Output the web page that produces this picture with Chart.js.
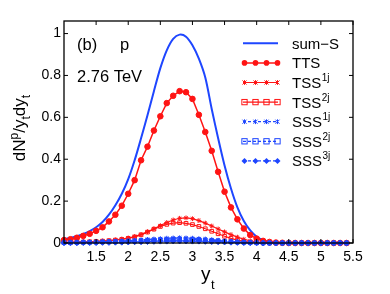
<!DOCTYPE html>
<html><head><meta charset="utf-8">
<script src="https://cdn.jsdelivr.net/npm/chart.js@4"></script>
<style>html,body{margin:0;padding:0;background:#fff}#wrap{width:390px;height:294px}</style>
</head><body><div id="wrap"><canvas id="c" width="390" height="294"></canvas></div>
<script>
const yt = [1.0,1.1,1.2,1.3,1.4,1.5,1.6,1.7,1.8,1.9,2.0,2.1,2.2,2.3,2.4,2.5,2.6,2.7,2.8,2.9,3.0,3.1,3.2,3.3,3.4,3.5,3.6,3.7,3.8,3.9,4.0,4.1,4.2,4.3,4.4,4.5,4.6,4.7,4.8,4.9,5.0,5.1,5.2,5.3,5.4];
const sumS = [.018,.024,.032,.043,.057,.075,.100,.135,.180,.235,.305,.395,.500,.610,.725,.835,.920,.975,.995,.985,.944,.880,.790,.640,.500,.370,.260,.170,.105,.060,.030,.013,.005,.002,.001,0,0,0,0,0,0,0,0,0,0];
const TTS = [.014,.018,.025,.034,.044,.058,.075,.103,.135,.178,.235,.300,.395,.460,.537,.605,.668,.703,.725,.720,.688,.612,.530,.440,.340,.245,.170,.113,.069,.038,.021,.010,.005,.002,.001,0,0,0,0,0,0,0,0,0,0];
const TSS1j = [.003,.004,.005,.006,.007,.008,.010,.012,.015,.019,.024,.031,.041,.054,.068,.083,.098,.110,.118,.120,.116,.107,.095,.081,.067,.053,.040,.028,.018,.010,.006,.003,.001,0,0,0,0,0,0,0,0,0,0,0,0];
const TSS2j = [.003,.003,.004,.005,.006,.007,.009,.011,.014,.017,.022,.029,.039,.052,.066,.079,.089,.095,.097,.094,.088,.079,.068,.056,.044,.032,.022,.014,.008,.004,.002,.001,0,0,0,0,0,0,0,0,0,0,0,0,0];
const SSS1j = [.002,.002,.003,.003,.004,.005,.006,.007,.008,.010,.011,.013,.015,.017,.019,.021,.023,.024,.025,.024,.023,.021,.019,.016,.013,.010,.008,.005,.003,.002,.001,0,0,0,0,0,0,0,0,0,0,0,0,0,0];
const SSS2j = [.002,.002,.002,.003,.003,.004,.005,.006,.007,.008,.009,.010,.012,.014,.015,.017,.018,.019,.020,.019,.018,.017,.015,.013,.011,.008,.006,.004,.003,.002,.001,0,0,0,0,0,0,0,0,0,0,0,0,0,0];
const SSS3j = [.001,.001,.001,.002,.002,.002,.003,.003,.004,.004,.005,.006,.006,.007,.008,.009,.009,.010,.010,.010,.009,.009,.008,.007,.006,.005,.004,.003,.002,.001,.001,0,0,0,0,0,0,0,0,0,0,0,0,0,0];
const xTicks = [1.5,2,2.5,3,3.5,4,4.5,5,5.5];
const yTicks = [0,0.2,0.4,0.6,0.8,1];
const yTickLabels = ["0","0.2","0.4","0.6","0.8","1"];
const seriesNames = ["sum\u2212S","TTS","TSS","TSS","SSS","SSS","SSS"];
const seriesSups = ["","","1j","2j","1j","2j","3j"];

const BLUE = 'rgb(30,70,255)', RED = 'rgb(255,20,20)';
const FONT = '"Liberation Sans", Arial, Helvetica, sans-serif';
const pts = a => a.map((v,i)=>({x:yt[i], y:v}));

const styles = [
  {c:BLUE, w:2, ps:false, dash:[]},
  {c:RED, w:1.5, ps:'circle', r:2.8, fill:true, dash:[]},
  {c:RED, w:1.2, ps:'star', r:2.4, fill:false, dash:[]},
  {c:RED, w:1.2, ps:'rect', r:2.6, fill:false, dash:[]},
  {c:BLUE, w:1.2, ps:'star', r:2.4, fill:false, dash:[3,2]},
  {c:BLUE, w:1.2, ps:'rect', r:2.6, fill:false, dash:[3,2]},
  {c:BLUE, w:1.2, ps:'rectRot', r:3, fill:true, dash:[3,2]},
];
const allData = [sumS,TTS,TSS1j,TSS2j,SSS1j,SSS2j,SSS3j];
const datasets = allData.map((d,i)=>{
  const s = styles[i];
  return {
    label: seriesNames[i]+seriesSups[i],
    data: pts(d),
    borderColor: s.c,
    backgroundColor: s.fill ? s.c : '#fff',
    borderWidth: s.w,
    borderDash: s.dash,
    pointStyle: s.ps || 'circle',
    pointRadius: s.ps ? s.r : 0,
    pointBorderWidth: 1,
    pointBorderColor: s.c,
    pointBackgroundColor: s.fill ? s.c : 'rgba(255,255,255,0)',
    tension: i===0 ? 0.3 : 0,
    order: 7-i,
    clip: false
  };
});

function drawMarker(ctx, style, x, y, r, color, fill){
  ctx.save();
  ctx.strokeStyle = color; ctx.fillStyle = color; ctx.lineWidth = 1; ctx.setLineDash([]);
  if(style==='circle'){ctx.beginPath();ctx.arc(x,y,r,0,Math.PI*2);ctx.fill();}
  else if(style==='star'){
    ctx.beginPath();
    const d=r*0.85;
    ctx.moveTo(x-d,y-d);ctx.lineTo(x+d,y+d);ctx.moveTo(x+d,y-d);ctx.lineTo(x-d,y+d);
    ctx.moveTo(x,y-r);ctx.lineTo(x,y+r);
    ctx.stroke();
  } else if(style==='rect'){
    const s=r*Math.SQRT2*0.72; ctx.strokeRect(x-s,y-s,2*s,2*s);
  } else if(style==='rectRot'){
    ctx.beginPath();ctx.moveTo(x,y-r);ctx.lineTo(x+r,y);ctx.lineTo(x,y+r);ctx.lineTo(x-r,y);ctx.closePath();ctx.fill();
  }
  ctx.restore();
}

const decor = {
  id:'decor',
  afterDraw(chart){
    const ctx = chart.ctx, a = chart.chartArea, xs = chart.scales.x, ys = chart.scales.y;
    ctx.save();
    ctx.strokeStyle='#000'; ctx.lineWidth=1.3; ctx.setLineDash([]);
    ctx.strokeRect(a.left, a.top, a.right-a.left, a.bottom-a.top);
    ctx.lineWidth=1;
    const tl=4;
    ctx.beginPath();
    xTicks.forEach(v=>{const p=xs.getPixelForValue(v);
      ctx.moveTo(p,a.bottom);ctx.lineTo(p,a.bottom-tl);ctx.moveTo(p,a.top);ctx.lineTo(p,a.top+tl);});
    yTicks.forEach(v=>{const p=ys.getPixelForValue(v);
      ctx.moveTo(a.left,p);ctx.lineTo(a.left+tl,p);ctx.moveTo(a.right,p);ctx.lineTo(a.right-tl,p);});
    ctx.stroke();
    ctx.fillStyle='#000'; ctx.textBaseline='alphabetic'; ctx.textAlign='left';
    ctx.font='16.5px '+FONT;
    ctx.fillText('(b)',77,50);
    ctx.fillText('p',120,50);
    ctx.fillText('2.76 TeV',77,82);
    const lx0=243, lx1=278, tx=292, y0=43.3, dy=19.6;
    for(let i=0;i<7;i++){
      const s=styles[i], y=y0+i*dy;
      ctx.save();
      ctx.strokeStyle=s.c; ctx.lineWidth=s.w; ctx.setLineDash(s.dash);
      ctx.beginPath();ctx.moveTo(lx0,y);ctx.lineTo(lx1,y);ctx.stroke();
      ctx.restore();
      if(s.ps){[244.5,255.5,266.5,277.5].forEach(mx=>drawMarker(ctx,s.ps,mx,y,s.r,s.c,s.fill));}
      ctx.fillStyle='#000';
      ctx.font='15px '+FONT;
      ctx.fillText(seriesNames[i],tx,y+5.5);
      if(seriesSups[i]){
        const w=ctx.measureText(seriesNames[i]).width;
        ctx.font='10px '+FONT;
        ctx.fillText(seriesSups[i],tx+w+0.5,y-1.5);
      }
    }
    ctx.font='19px '+FONT;
    ctx.fillText('y',201,280);
    ctx.font='13px '+FONT;
    ctx.fillText('t',211,289);
    ctx.save();
    ctx.translate(25,128); ctx.rotate(-Math.PI/2);
    const parts=[['dN',17,0],['p',12,-7],['/y',17,0],['t',12,5],['dy',17,0],['t',12,5]];
    let tot=0; parts.forEach(p=>{ctx.font=p[1]+'px '+FONT; tot+=ctx.measureText(p[0]).width;});
    let x=-tot/2;
    parts.forEach(p=>{ctx.font=p[1]+'px '+FONT; ctx.fillText(p[0],x,p[2]); x+=ctx.measureText(p[0]).width;});
    ctx.restore();
    ctx.restore();
  }
};

new Chart(document.getElementById('c'),{
  type:'line',
  data:{datasets},
  options:{
    responsive:false, animation:false, devicePixelRatio:1,
    layout:{padding:{left:0,top:21,right:37,bottom:0}},
    plugins:{legend:{display:false},tooltip:{enabled:false}},
    scales:{
      x:{type:'linear',min:1,max:5.5,
        afterBuildTicks:s=>{s.ticks=xTicks.map(v=>({value:v}));},
        afterFit:s=>{s.height=51;},
        grid:{display:false,drawTicks:false},border:{display:false},
        ticks:{color:'#000',font:{family:FONT,size:14},padding:6,maxRotation:0,autoSkip:false,
          callback:v=>String(v)}},
      y:{type:'linear',min:0,max:1.06,
        afterBuildTicks:s=>{s.ticks=yTicks.map(v=>({value:v}));},
        afterFit:s=>{s.width=64;},
        grid:{display:false,drawTicks:false},border:{display:false},
        ticks:{color:'#000',font:{family:FONT,size:14},padding:3,autoSkip:false,
          callback:(v)=>{const i=yTicks.indexOf(v);return i>=0?yTickLabels[i]:'';}}}
    }
  },
  plugins:[decor]
});
</script></body></html>
